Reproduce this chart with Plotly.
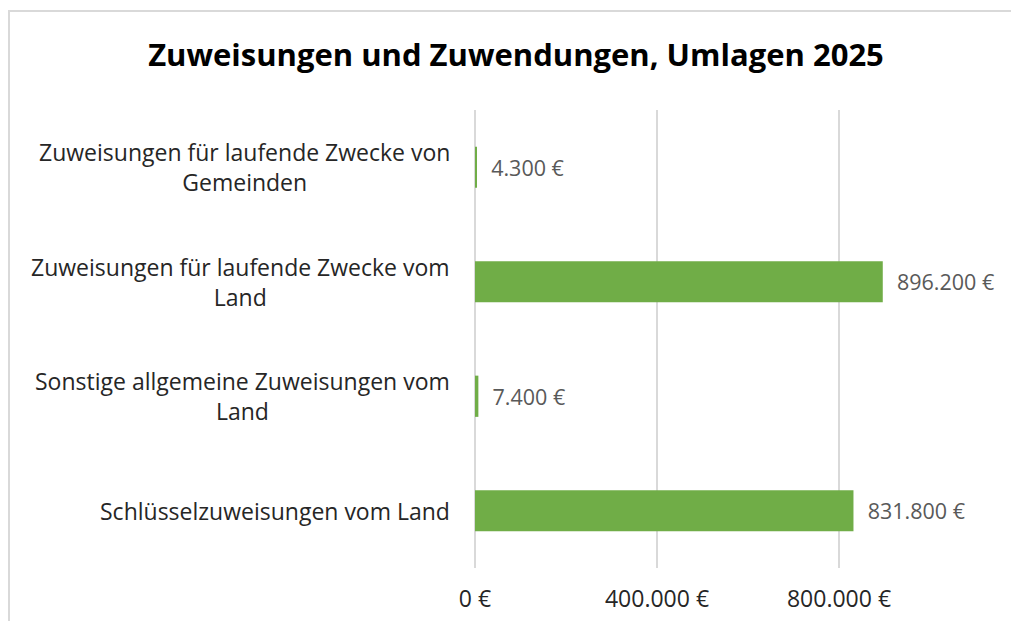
import plotly.graph_objects as go

categories = [
    "Zuweisungen für laufende Zwecke von<br>Gemeinden",
    "Zuweisungen für laufende Zwecke vom<br>Land",
    "Sonstige allgemeine Zuweisungen vom<br>Land",
    "Schlüsselzuweisungen vom Land",
]
values = [4300, 896200, 7400, 831800]
tick_vals = [0, 400000, 800000]
tick_text = ["0 €", "400.000 €", "800.000 €"]
title_text = "Zuweisungen und Zuwendungen, Umlagen 2025"

W, H = 1011, 621
ML, MR, MT, MB = 475, 0, 110, 53
pw = W - ML - MR
ph = H - MT - MB
FONT = "Open Sans"

fig = go.Figure(go.Bar(
    x=values, y=categories, orientation="h",
    marker=dict(color="#70ad47", line=dict(width=0)),
    width=0.36,
    text=values,
    texttemplate="  %{x:,.0f} €",
    textposition="outside",
    textfont=dict(family=FONT, size=21.5, color="#595959"),
    cliponaxis=False,
))

annotations = []
for c in categories:
    annotations.append(dict(
        x=0, y=c, xref="x", yref="y", text=c, showarrow=False,
        xanchor="right", yanchor="middle", align="center", xshift=-23,
        font=dict(family=FONT, size=23, color="#262626"),
    ))

fig.update_layout(
    width=W, height=H,
    margin=dict(l=ML, r=MR, t=MT, b=MB, pad=0),
    paper_bgcolor="white", plot_bgcolor="white",
    separators=",.",
    showlegend=False,
    title=dict(text="<b>" + title_text + "</b>", xref="container", x=516 / W,
               xanchor="center", yref="container", y=1 - 55 / H, yanchor="middle",
               font=dict(family=FONT, size=31, color="#000000")),
    xaxis=dict(range=[0, 400000 * pw / 182], tickvals=tick_vals, ticktext=tick_text,
               showgrid=True, gridcolor="#d9d9d9", gridwidth=1.5,
               zeroline=True, zerolinecolor="#d9d9d9", zerolinewidth=1.5,
               showline=False, ticks="", ticklabelstandoff=15,
               tickfont=dict(family=FONT, size=23, color="#262626")),
    yaxis=dict(autorange="reversed", showticklabels=False, showgrid=False,
               zeroline=False, showline=False, ticks=""),
    annotations=annotations,
    shapes=[dict(type="rect", xref="paper", yref="paper",
                 x0=(9 - ML) / pw, x1=1.2, y0=-0.3, y1=(H - MB - 11) / ph,
                 line=dict(color="#d9d9d9", width=2), fillcolor="rgba(0,0,0,0)",
                 layer="below")],
)

fig.write_html("out.html", config={"displayModeBar": False},
               post_script="document.body.style.margin='0';document.body.style.overflow='hidden';")
